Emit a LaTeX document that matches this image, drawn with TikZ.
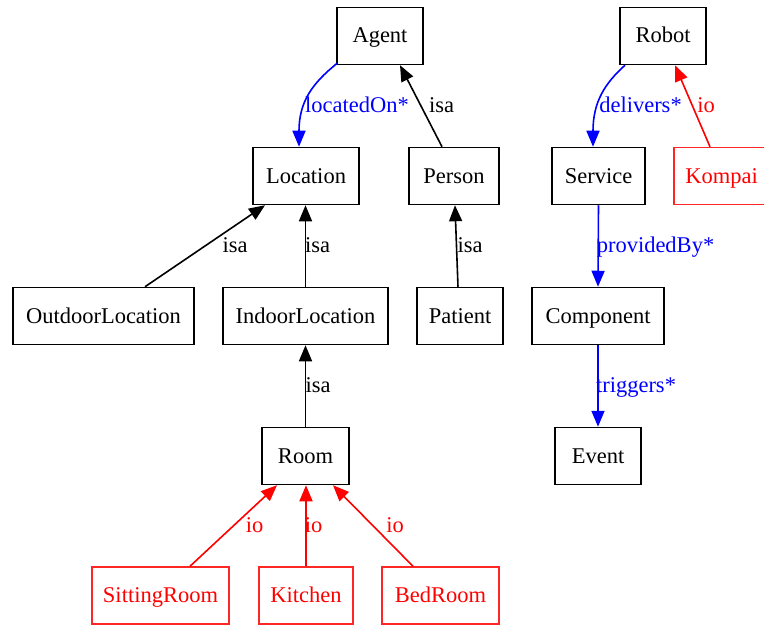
\documentclass[tikz,border=0pt]{standalone}
\usepackage{fontspec}
\setmainfont{Liberation Serif}
\usetikzlibrary{arrows.meta}

\begin{document}
\begin{tikzpicture}[x=1pt,y=-1pt,
  txt/.style={font=\fontsize{22.5}{26}\selectfont, text height=15pt, text depth=1pt},
  box/.style={draw, line width=1.5pt, rectangle, inner sep=0pt, txt, minimum height=57pt},
  redbox/.style={box, draw=red!85!white, text=red},
  lbl/.style={txt, inner sep=0pt},
  tip/.style={-{Triangle[length=16pt,width=13pt]}, line width=1.6pt},
  isa/.style={tip, draw=black},
  rel/.style={tip, draw=blue},
  io/.style={tip, draw=red}]

\useasboundingbox (0,0) rectangle (764,626);
\clip (0,0) rectangle (764,626);

% class nodes
\node[box, minimum width=86pt]  (agent)   at (380,36)    {Agent};
\node[box, minimum width=86pt]  (robot)   at (663,36)    {Robot};
\node[box, minimum width=106pt] (loc)     at (306,176)   {Location};
\node[box, minimum width=90pt]  (person)  at (454,176)   {Person};
\node[box, minimum width=93pt]  (service) at (598.5,176) {Service};
\node[redbox, minimum width=95pt] (kompai) at (721.5,176) {Kompai};
\node[box, minimum width=181pt] (outdoor) at (103.5,316) {OutdoorLocation};
\node[box, minimum width=165pt] (indoor)  at (305.5,316) {IndoorLocation};
\node[box, minimum width=86pt]  (patient) at (460,316)   {Patient};
\node[box, minimum width=132pt] (comp)    at (598,316)   {Component};
\node[box, minimum width=86pt]  (event)   at (598,456)   {Event};
\node[box, minimum width=87pt]  (room)    at (305.5,456) {Room};
\node[redbox, minimum width=137pt] (sitting) at (160.5,595.5) {SittingRoom};
\node[redbox, minimum width=94pt]  (kitchen) at (306,595.5)   {Kitchen};
\node[redbox, minimum width=117pt] (bed)     at (440.5,595.5) {BedRoom};

% relations
\draw[rel] ([xshift=1pt,yshift=2pt]agent.south west) .. controls +(-25,20) and +(0,-45) .. ([xshift=-7pt]loc.north);
\draw[rel] ([xshift=-38pt]robot.south) .. controls +(-20,18) and +(0,-45) .. ([xshift=-5.5pt]service.north);
\draw[rel] (service.south) -- (comp.north);
\draw[rel] (comp.south) -- (event.north);

% subclass edges
\draw[isa] ([xshift=-12pt]person.north) -- ([xshift=20pt]agent.south);
\draw[isa] ([xshift=41.5pt]outdoor.north) -- ([xshift=-41pt]loc.south);
\draw[isa] (indoor.north) -- (loc.south -| indoor.north);
\draw[isa] ([xshift=-2pt]patient.north) -- ([xshift=1pt]person.south);
\draw[isa] (room.north) -- (indoor.south -| room.north);

% instance edges
\draw[io] ([xshift=-11.5pt]kompai.north) -- ([xshift=12pt]robot.south);
\draw[io] ([xshift=29.5pt]sitting.north) -- ([xshift=-28.5pt]room.south);
\draw[io] (kitchen.north) -- (room.south -| kitchen.north);
\draw[io] ([xshift=-27.5pt]bed.north) -- ([xshift=27.5pt]room.south);

% edge labels
\node[lbl, text=blue] (l1) at (357,106) {locatedOn*};
\node[lbl] (l2) at (441.5,106) {isa};
\node[lbl, text=blue] (l3) at (640.5,106) {delivers*};
\node[lbl, text=red] (l4) at (706,106) {io};
\node[lbl] (l5) at (235,245) {isa};
\node[lbl] (l6) at (317.5,245) {isa};
\node[lbl] (l7) at (470,245) {isa};
\node[lbl, text=blue] (l8) at (655.5,245) {providedBy*};
\node[lbl] (l9) at (318,385) {isa};
\node[lbl, text=blue] (l10) at (636,385) {triggers*};
\node[lbl, text=red] (l11) at (254.5,525) {io};
\node[lbl, text=red] (l12) at (313.5,525) {io};
\node[lbl, text=red] (l13) at (395,525) {io};
\end{tikzpicture}
\end{document}
